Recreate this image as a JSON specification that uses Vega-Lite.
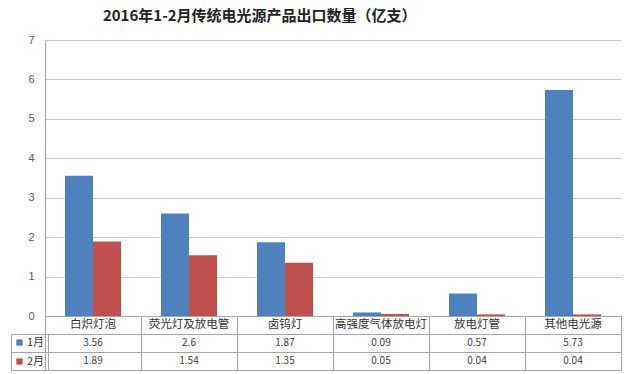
{
  "$schema": "https://vega.github.io/schema/vega-lite/v6.json",
  "padding": {"left": 10, "right": 10, "top": 9, "bottom": 3},
  "autosize": {"type": "pad"},
  "title": {"text": "2016年1-2月传统电光源产品出口数量（亿支）", "font": "Noto Sans CJK SC", "fontSize": 15, "fontWeight": "bold", "color": "#222222", "anchor": "middle", "dx": -56, "offset": 10},
  "data": {"values": [
    {"cat": "白炽灯泡", "series": "1月", "value": 3.56},
    {"cat": "白炽灯泡", "series": "2月", "value": 1.89},
    {"cat": "荧光灯及放电管", "series": "1月", "value": 2.6},
    {"cat": "荧光灯及放电管", "series": "2月", "value": 1.54},
    {"cat": "卤钨灯", "series": "1月", "value": 1.87},
    {"cat": "卤钨灯", "series": "2月", "value": 1.35},
    {"cat": "高强度气体放电灯", "series": "1月", "value": 0.09},
    {"cat": "高强度气体放电灯", "series": "2月", "value": 0.05},
    {"cat": "放电灯管", "series": "1月", "value": 0.57},
    {"cat": "放电灯管", "series": "2月", "value": 0.04},
    {"cat": "其他电光源", "series": "1月", "value": 5.73},
    {"cat": "其他电光源", "series": "2月", "value": 0.04}
  ]},
  "bounds": "flush",
  "spacing": 0,
  "resolve": {"scale": {"x": "independent", "y": "independent", "color": "independent"}, "legend": {"color": "independent"}},
  "vconcat": [
    {
      "width": 576,
      "height": 276,
      "mark": {"type": "bar"},
      "encoding": {
        "x": {"field": "cat", "type": "nominal", "sort": ["白炽灯泡", "荧光灯及放电管", "卤钨灯", "高强度气体放电灯", "放电灯管", "其他电光源"], "scale": {"paddingInner": 0.4167, "paddingOuter": 0.2083}, "axis": {"labels": false, "ticks": false, "title": null, "domainColor": "#a6a6a6"}},
        "xOffset": {"field": "series", "type": "nominal", "sort": ["1月", "2月"], "scale": {"paddingInner": 0, "paddingOuter": 0}},
        "y": {"field": "value", "type": "quantitative", "scale": {"domain": [0, 7]}, "axis": {"values": [0, 1, 2, 3, 4, 5, 6, 7], "title": null, "ticks": false, "labelPadding": 11, "gridColor": "#c8c8c8", "domainColor": "#a6a6a6", "labelColor": "#595959", "labelFontSize": 11, "labelFont": "Liberation Sans"}},
        "color": {"field": "series", "type": "nominal", "scale": {"domain": ["1月", "2月"], "range": ["#4F81BD", "#C0504D"]}, "legend": null}
      }
    },
    {
      "width": 576,
      "height": 54,
      "view": {"stroke": "#a6a6a6"},
      "encoding": {
        "x": {"field": "cat", "type": "nominal", "sort": ["白炽灯泡", "荧光灯及放电管", "卤钨灯", "高强度气体放电灯", "放电灯管", "其他电光源"], "scale": {"type": "band", "paddingInner": 0, "paddingOuter": 0}, "axis": {"labels": false, "ticks": false, "domain": false, "title": null, "grid": true, "bandPosition": 0, "gridColor": "#a6a6a6"}}
      },
      "layer": [
        {
          "transform": [{"filter": "datum.series === '1月'"}],
          "mark": {"type": "text", "fontSize": 11.5, "color": "#333333"},
          "encoding": {
            "y": {"datum": "hdr", "type": "nominal", "scale": {"type": "band", "domain": ["hdr", "1月", "2月"], "paddingInner": 0, "paddingOuter": 0}, "axis": {"title": null, "labels": false, "ticks": true, "tickSize": 34, "tickColor": "#a6a6a6", "bandPosition": 1, "grid": true, "gridColor": "#a6a6a6", "domainColor": "#a6a6a6"}},
            "text": {"field": "cat", "type": "nominal"}
          }
        },
        {
          "mark": {"type": "text", "fontSize": 10, "color": "#404040"},
          "encoding": {
            "y": {"field": "series", "type": "nominal"},
            "text": {"field": "value", "type": "nominal"}
          }
        },
        {
          "mark": {"type": "square", "opacity": 0},
          "encoding": {
            "y": {"field": "series", "type": "nominal"},
            "color": {"field": "series", "type": "nominal", "scale": {"domain": ["1月", "2月"], "range": ["#4F81BD", "#C0504D"]}, "legend": {"title": null, "orient": "none", "legendX": -34, "legendY": 18, "symbolType": "square", "symbolSize": 40, "symbolOpacity": 1, "labelFontSize": 11, "labelColor": "#333333", "rowPadding": 7, "padding": 3, "strokeColor": "#a6a6a6", "labelOffset": 2}}
          }
        }
      ]
    }
  ],
  "config": {"view": {"stroke": null}, "font": "Noto Sans CJK SC"}
}
